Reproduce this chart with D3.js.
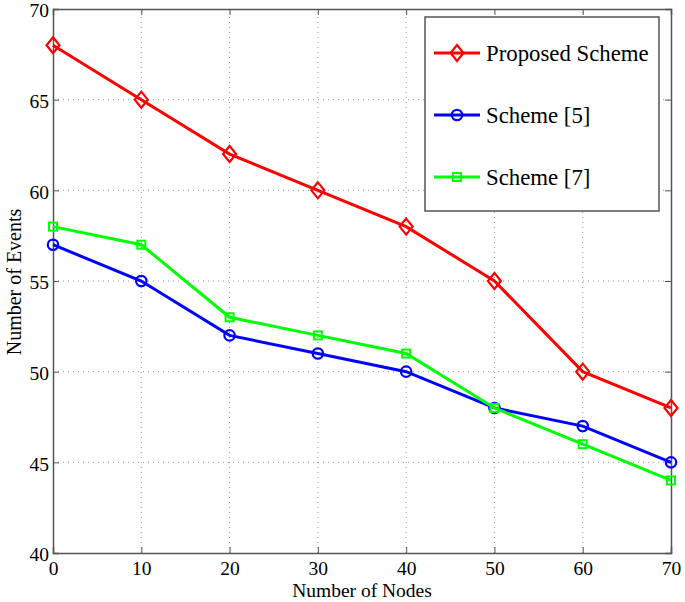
<!DOCTYPE html>
<html><head><meta charset="utf-8">
<script src="https://cdn.jsdelivr.net/npm/d3@7"></script>
<style>body{margin:0;background:#fff}svg text{font-family:"Liberation Serif","Times New Roman",serif;fill:#000}</style>
</head><body>
<script>
const nodes = [0,10,20,30,40,50,60,70];
const proposed = [68,65,62,60,58,55,50,48];
const scheme5 = [57,55,52,51,50,48,47,45];
const scheme7 = [58,57,53,52,51,48,46,44];
const xTicks = [0,10,20,30,40,50,60,70];
const yTicks = [40,45,50,55,60,65,70];
const seriesNames = ["Proposed Scheme","Scheme [5]","Scheme [7]"];
const seriesColors = ["#ff0000","#0000ff","#00ff00"];
const seriesMarkers = ["diamond","circle","square"];
const seriesData = [proposed, scheme5, scheme7];

const W=685,H=602;
const m={l:53,t:9,r:W-671,b:H-553};
const svg=d3.select("body").append("svg").attr("width",W).attr("height",H);
const x=d3.scaleLinear().domain([0,70]).range([m.l,W-m.r]);
const y=d3.scaleLinear().domain([40,70]).range([H-m.b,m.t]);
const axisCol="#555";

// grid
const g=svg.append("g");
g.selectAll(".vg").data(xTicks.slice(1,-1)).join("line")
 .attr("x1",d=>x(d)).attr("x2",d=>x(d)).attr("y1",y(40)).attr("y2",y(70))
 .attr("stroke","#999").attr("stroke-width",1).attr("stroke-dasharray","1,4");
g.selectAll(".hg").data(yTicks.slice(1,-1)).join("line")
 .attr("y1",d=>y(d)).attr("y2",d=>y(d)).attr("x1",x(0)).attr("x2",x(70))
 .attr("stroke","#999").attr("stroke-width",1).attr("stroke-dasharray","1,4");

// axes
const fs=19.5;
const ax=svg.append("g").attr("transform",`translate(0,${y(40)})`)
 .call(d3.axisBottom(x).tickValues(xTicks).tickSize(-6).tickPadding(8));
const ax2=svg.append("g").attr("transform",`translate(0,${y(70)})`)
 .call(d3.axisTop(x).tickValues(xTicks).tickSize(-6).tickFormat(""));
const ay=svg.append("g").attr("transform",`translate(${x(0)},0)`)
 .call(d3.axisLeft(y).tickValues(yTicks).tickSize(-6).tickPadding(4));
const ay2=svg.append("g").attr("transform",`translate(${x(70)},0)`)
 .call(d3.axisRight(y).tickValues(yTicks).tickSize(-6).tickFormat(""));
[ax,ax2,ay,ay2].forEach(a=>{
 a.selectAll("path").attr("stroke",axisCol).attr("stroke-width",1.5);
 a.selectAll("line").attr("stroke",axisCol).attr("stroke-width",1);
 a.selectAll("text").attr("font-size",fs).attr("font-family","Liberation Serif").attr("fill","#000");
});
ay.selectAll("text").attr("dy","0.4em");
ax.selectAll("text").attr("y",0).attr("dy","1.15em");

// labels
svg.append("text").attr("x",(x(0)+x(70))/2).attr("y",597).attr("text-anchor","middle")
 .attr("font-size",19.5).text("Number of Nodes");
svg.append("text").attr("transform",`translate(21,282) rotate(-90)`)
 .attr("text-anchor","middle").attr("font-size",20).text("Number of Events");

function marker(sel,type,color,cx,cy){
 if(type==="diamond"){
  sel.append("path").attr("d",`M${cx},${cy-8}L${cx+6.5},${cy}L${cx},${cy+8}L${cx-6.5},${cy}Z`)
   .attr("fill","none").attr("stroke",color).attr("stroke-width",2.2);
 } else if(type==="circle"){
  sel.append("circle").attr("cx",cx).attr("cy",cy).attr("r",5.2)
   .attr("fill","none").attr("stroke",color).attr("stroke-width",2.2);
 } else {
  sel.append("rect").attr("x",cx-4).attr("y",cy-4).attr("width",8).attr("height",8)
   .attr("fill","none").attr("stroke",color).attr("stroke-width",2);
 }
}

const line=d3.line().x((d,i)=>x(nodes[i])).y(d=>y(d));
seriesData.forEach((data,si)=>{
 const gg=svg.append("g");
 gg.append("path").datum(data).attr("d",line).attr("fill","none")
  .attr("stroke",seriesColors[si]).attr("stroke-width",3);
 data.forEach((v,i)=>marker(gg,seriesMarkers[si],seriesColors[si],x(nodes[i]),y(v)));
});

// legend
const lg=svg.append("g");
lg.append("rect").attr("x",425).attr("y",17).attr("width",234).attr("height",194)
 .attr("fill","#fff").attr("stroke",axisCol).attr("stroke-width",1.5);
const rows=[53,115,177];
seriesNames.forEach((n,i)=>{
 lg.append("line").attr("x1",434).attr("x2",480).attr("y1",rows[i]).attr("y2",rows[i])
  .attr("stroke",seriesColors[i]).attr("stroke-width",3);
 marker(lg,seriesMarkers[i],seriesColors[i],457,rows[i]);
 lg.append("text").attr("x",486).attr("y",rows[i]).attr("dy","0.35em").attr("font-size",22.8).text(n);
});
</script>
</body></html>
